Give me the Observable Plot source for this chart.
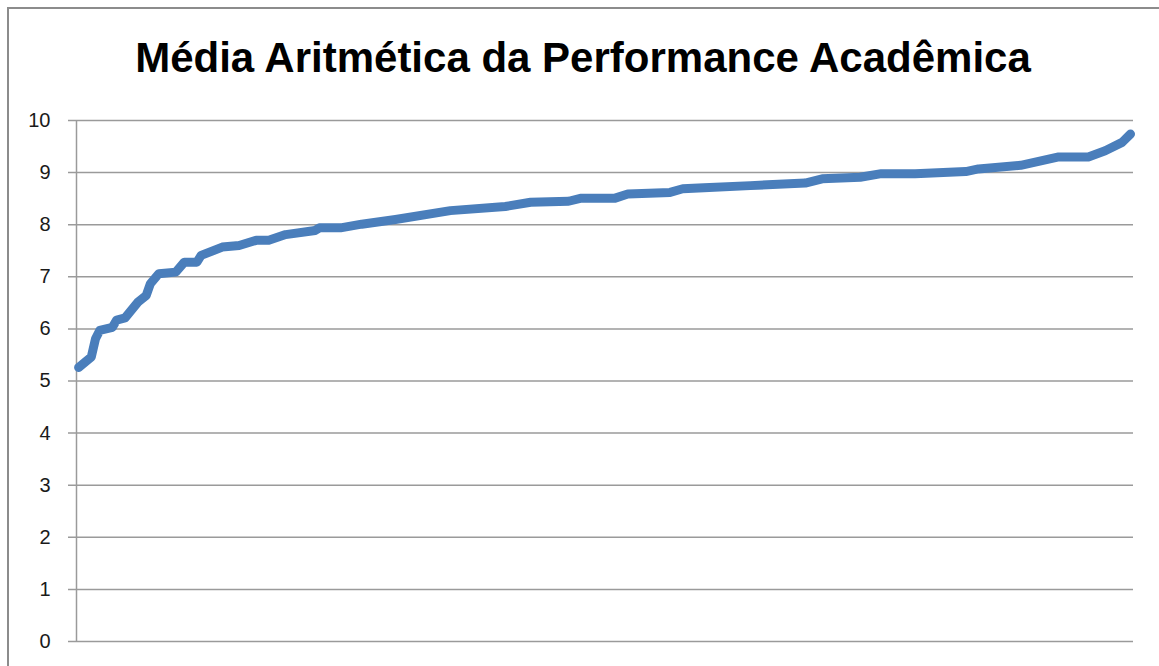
<!DOCTYPE html>
<html>
<head>
<meta charset="utf-8">
<script src="https://cdn.jsdelivr.net/npm/d3@7"></script>
<script src="https://cdn.jsdelivr.net/npm/@observablehq/plot@0.6"></script>
<style>
  html, body { margin: 0; padding: 0; background: #fff; overflow: hidden; }
  #wrap { position: relative; width: 1159px; height: 666px; overflow: hidden; }
  #frame { position: absolute; left: 7px; top: 7px; width: 1300px; height: 800px; border: 2px solid #8c8c8c; box-sizing: border-box; }
  #title { position: absolute; left: 0; top: 34px; width: 1166px; text-align: center;
           font-family: "Liberation Sans", sans-serif; font-weight: bold; font-size: 42px; color: #000; white-space: nowrap; }
  #chart { position: absolute; left: 0; top: 0; }
  #chart svg text { font-size: 20px; }
</style>
</head>
<body>
<div id="wrap">
  <div id="frame"></div>
  <div id="title">Média Aritmética da Performance Acadêmica</div>
  <div id="chart"></div>
</div>
<script>
const rank  = [1, 4, 5, 6, 9, 10, 12, 15, 17, 18, 20, 24, 26, 29, 30, 35, 39, 43, 46, 50, 57, 58, 63, 68, 76, 89, 102, 108, 117, 120, 128, 131, 141, 144, 149, 160, 173, 177, 186, 191, 199, 211, 214, 224, 233, 240, 244, 248, 250];
const media = [5.26, 5.46, 5.81, 5.97, 6.03, 6.17, 6.21, 6.51, 6.64, 6.87, 7.06, 7.09, 7.28, 7.28, 7.41, 7.57, 7.60, 7.70, 7.70, 7.81, 7.89, 7.94, 7.94, 8.01, 8.10, 8.27, 8.35, 8.43, 8.45, 8.51, 8.51, 8.59, 8.62, 8.69, 8.71, 8.75, 8.80, 8.88, 8.91, 8.98, 8.98, 9.02, 9.07, 9.14, 9.30, 9.30, 9.42, 9.58, 9.74];
const yTicks = [0, 1, 2, 3, 4, 5, 6, 7, 8, 9, 10];

const data = rank.map((r, i) => ({rank: r, media: media[i]}));

const chart = Plot.plot({
  width: 1159,
  height: 666,
  marginLeft: 76,
  marginRight: 26,
  marginTop: 120,
  marginBottom: 25,
  style: {background: "transparent", fontFamily: "Liberation Sans, sans-serif", fontSize: "20px", color: "#1a1a1a"},
  x: {domain: [0.5, 250.7], axis: null},
  y: {domain: [0, 10], ticks: yTicks, label: null, tickFormat: d => String(d)},
  marks: [
    Plot.gridY(yTicks, {stroke: "#9a9a9a", strokeOpacity: 1, strokeWidth: 1.5, x1: 0.5 - 8 / 4.225}),
    Plot.ruleX([0.5], {stroke: "#9a9a9a", strokeWidth: 1.5}),
    Plot.axisY({ticks: yTicks, tickSize: 0, tickPadding: 26, label: null, fontSize: 20, tickFormat: d => String(d)}),
    Plot.line(data, {x: "rank", y: "media", stroke: "#4a7ebb", strokeWidth: 9, strokeLinecap: "round", strokeLinejoin: "round"})
  ]
});
document.getElementById("chart").appendChild(chart);
</script>
</body>
</html>
